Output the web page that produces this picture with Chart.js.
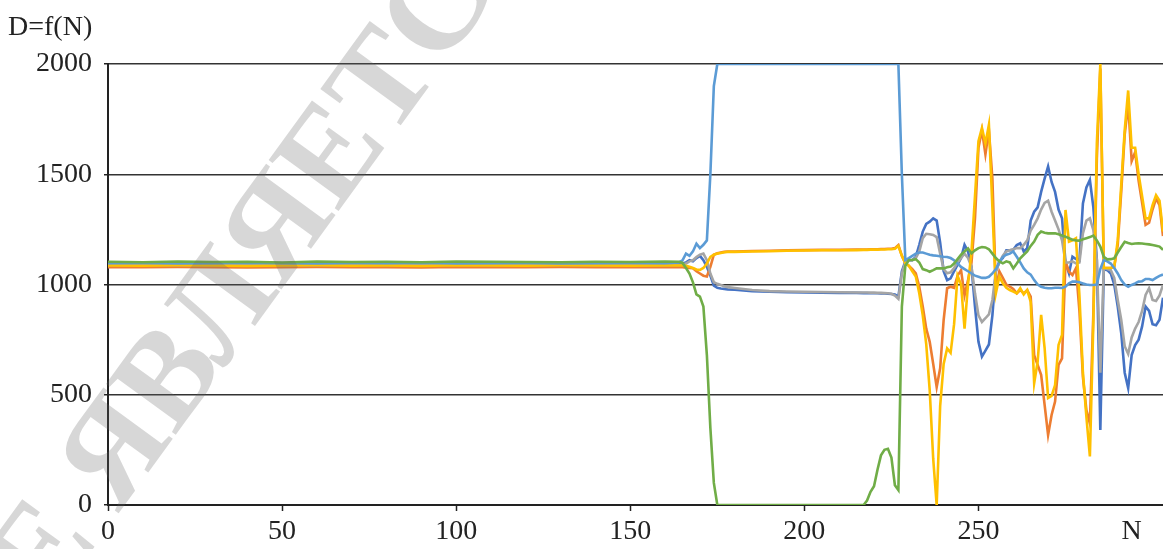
<!DOCTYPE html>
<html>
<head>
<meta charset="utf-8">
<script src="https://cdn.jsdelivr.net/npm/chart.js@4.4.1/dist/chart.umd.min.js"></script>
<style>
  html, body { margin: 0; padding: 0; background: #fff; }
  #chart { display: block; }
</style>
</head>
<body>
<canvas id="chart" width="1163" height="549"></canvas>
<script>
// Sample positions N (dense only where the curves move)
const nValues = [
  0, 10, 20, 30, 40, 50, 60, 70, 80, 90, 100, 110, 120, 130, 140, 150, 160,
  164, 165, 166, 167, 168, 169, 170, 171, 172, 173, 174, 175, 176, 177, 178,
  180, 185, 190, 195, 200, 205, 210, 215,
  217, 218, 219, 220, 221, 222, 223, 224, 225, 226, 227,
  228, 229, 230, 231, 232, 233, 234, 235, 236, 237,
  238, 239, 240, 241, 242, 243, 244, 245, 246, 247,
  248, 249, 250, 251, 252, 253, 254, 255, 256, 257,
  258, 259, 260, 261, 262, 263, 264, 265, 266, 267,
  268, 269, 270, 271, 272, 273, 274, 275, 276, 277,
  278, 279, 280, 281, 282, 283, 284, 285, 286, 287,
  288, 289, 290, 291, 292, 293, 294, 295, 296, 297,
  298, 299, 300, 301, 302, 303
];

const seriesBlue = [
  1093, 1092, 1094, 1093, 1091, 1094, 1093, 1092, 1094, 1093, 1092, 1094, 1093, 1092, 1094, 1093, 1092,
  1093, 1095, 1100, 1110, 1105, 1120, 1130, 1110, 1080, 1040, 995, 985, 982, 980, 978,
  976, 970, 967, 965, 964, 963, 962, 962,
  961, 961, 960, 960, 960, 959, 959, 958, 957, 955, 945,
  1060, 1105, 1110, 1110, 1125, 1180, 1240, 1275, 1285, 1300,
  1290, 1190, 1060, 1020, 1028, 1060, 1090, 1120, 1180, 1150,
  1080, 900, 740, 673, 700, 728, 860, 1060, 1105, 1120,
  1155, 1155, 1157, 1179, 1187, 1150, 1165, 1290, 1330, 1350,
  1420, 1480, 1535, 1465, 1420, 1340, 1300, 1100, 1050, 1126,
  1115, 1110, 1368, 1440, 1474, 1350, 1111, 340, 1070, 1065,
  1050, 1000, 900, 780, 600, 530, 680, 725, 750, 810,
  900, 880, 820, 815, 840, 940
];

const seriesOrange = [
  1079, 1078, 1080, 1079, 1077, 1079, 1080, 1078, 1079, 1077, 1080, 1079, 1078, 1080, 1079, 1078, 1079,
  1079, 1078, 1076, 1075, 1074, 1060, 1050, 1040, 1036, 1080, 1135, 1142, 1145, 1148, 1150,
  1150, 1152, 1153, 1155, 1156, 1157, 1157, 1158,
  1159, 1159, 1160, 1160, 1160, 1161, 1161, 1162, 1162, 1165, 1179,
  1130, 1096, 1085, 1070, 1051, 990, 900, 800, 740, 640,
  535, 620, 839, 983, 990, 985, 1040, 1065, 950, 1020,
  1100, 1300, 1620, 1700, 1590, 1700, 1480, 980, 1060, 1030,
  1000, 990, 980, 960, 975, 960, 975, 945, 680, 635,
  590, 454, 318, 408, 469, 635, 665, 1104, 1058, 1043,
  1074, 880, 580, 430, 370, 870, 1570, 1980, 1075, 1075,
  1075, 1080, 1180, 1420, 1680, 1820, 1560, 1600, 1470, 1370,
  1270, 1280, 1340, 1390, 1360, 1220
];

const seriesGray = [
  1088, 1089, 1087, 1088, 1090, 1088, 1087, 1089, 1088, 1087, 1089, 1088, 1087, 1089, 1088, 1087, 1089,
  1088, 1090, 1095, 1105, 1110, 1125, 1135, 1140, 1110, 1050, 1010, 1003, 998, 992, 988,
  984, 975, 970, 968, 967, 966, 965, 964,
  964, 964, 963, 963, 962, 962, 961, 960, 958, 950, 935,
  1050, 1100, 1110, 1110, 1120, 1150, 1210, 1230, 1228, 1225,
  1215, 1140, 1070, 1051, 1055, 1075, 1100, 1120, 1140, 1120,
  1080, 960, 860, 830, 847, 865, 930, 1060, 1100, 1130,
  1150, 1155, 1160, 1165, 1165, 1180, 1200, 1245, 1270, 1300,
  1340, 1370, 1380, 1330, 1290, 1250, 1200, 1100, 1100, 1105,
  1096, 1100, 1232, 1290, 1300, 1247, 1111, 600, 1075, 1070,
  1065, 1030, 930, 840, 720, 685, 760, 800, 830, 880,
  953, 983, 930, 925, 950, 998
];

const seriesYellow = [
  1086, 1085, 1087, 1086, 1084, 1086, 1087, 1085, 1086, 1084, 1087, 1086, 1085, 1087, 1086, 1085, 1086,
  1086, 1086, 1085, 1080, 1075, 1068, 1066, 1075, 1095, 1125, 1135, 1140, 1143, 1146, 1148,
  1148, 1150, 1151, 1153, 1154, 1155, 1155, 1156,
  1157, 1157, 1158, 1158, 1158, 1159, 1159, 1160, 1160, 1162, 1175,
  1130, 1096, 1085, 1060, 1036, 960, 860, 730, 520, 210,
  0, 450, 640, 710, 690, 820, 1040, 1000, 800, 1000,
  1150, 1400, 1650, 1710, 1640, 1725, 1350, 960, 1036, 1005,
  985, 975, 968, 960, 983, 955, 975, 921, 552, 650,
  862, 712, 485, 495, 544, 726, 771, 1338, 1194, 1200,
  1210, 950, 600, 400, 220, 830, 1640, 2000, 1075, 1075,
  1075, 1080, 1200, 1450, 1700, 1880, 1620, 1620, 1500, 1400,
  1300, 1300, 1360, 1405, 1380, 1240
];

const seriesSkyBlue = [
  1097, 1098, 1096, 1097, 1099, 1097, 1096, 1098, 1097, 1099, 1096, 1097, 1098, 1096, 1097, 1098, 1097,
  1100, 1110, 1140, 1130, 1150, 1185, 1165, 1180, 1200, 1500, 1900, 2000, 2000, 2000, 2000,
  2000, 2000, 2000, 2000, 2000, 2000, 2000, 2000,
  2000, 2000, 2000, 2000, 2000, 2000, 2000, 2000, 2000, 2000, 2000,
  1500, 1111, 1120, 1130, 1140, 1145, 1145, 1140, 1135, 1132,
  1130, 1128, 1126, 1125, 1120, 1110, 1095, 1080, 1070, 1060,
  1050, 1040, 1035, 1030, 1030, 1035, 1050, 1070, 1100, 1125,
  1135, 1140, 1150, 1126, 1100, 1073, 1055, 1045, 1020, 1000,
  990, 985, 983, 983, 985, 985, 984, 990, 1005, 1013,
  1013, 1010, 1005, 1000, 998, 998, 1000, 1070, 1111, 1105,
  1095, 1075, 1050, 1020, 1000, 990, 998, 1005, 1013, 1015,
  1025, 1025, 1020, 1030, 1039, 1045
];

const seriesGreen = [
  1103, 1101, 1104, 1102, 1103, 1100, 1104, 1102, 1103, 1101, 1104, 1103, 1102, 1101, 1103, 1102, 1104,
  1103, 1098, 1075, 1050, 1010, 955, 945, 900, 680, 350, 100, 0, 0, 0, 0,
  0, 0, 0, 0, 0, 0, 0, 0,
  0, 20, 60, 85, 160, 225, 250, 255, 215, 90, 68,
  900, 1085, 1111, 1111, 1115, 1100, 1070, 1065, 1058, 1065,
  1073, 1073, 1073, 1078, 1081, 1095, 1115, 1135, 1150, 1164,
  1141, 1155, 1165, 1170, 1168, 1160, 1140, 1120, 1105, 1096,
  1105, 1100, 1073, 1095, 1119, 1135, 1150, 1175, 1195, 1225,
  1240, 1235, 1232, 1232, 1232, 1228, 1222, 1217, 1210, 1203,
  1200, 1199, 1205, 1210, 1215, 1222, 1200, 1172, 1125, 1114,
  1115, 1119, 1145, 1170, 1194, 1188, 1184, 1186, 1187, 1186,
  1184, 1182, 1179, 1176, 1172, 1157
];

const xTickValues = [0, 50, 100, 150, 200, 250];
const nLabelAt = 294;
const yTickStep = 500;
const titleText = 'D=f(N)';
const watermarkLead = 'НЕ ';
const watermarkMain = 'ЯВЛЯЕТСЯ';

const serif = '"Liberation Serif", "Times New Roman", serif';
const inkColor = '#222';

function toPoints(values) {
  return nValues.map((n, i) => ({ x: n, y: values[i] }));
}

// Excel draws later series on top; lower "order" is drawn last in Chart.js
const seriesList = [
  { data: seriesBlue, color: '#4472C4', order: 6 },
  { data: seriesOrange, color: '#ED7D31', order: 5 },
  { data: seriesGray, color: '#A5A5A5', order: 4 },
  { data: seriesYellow, color: '#FFC000', order: 3 },
  { data: seriesSkyBlue, color: '#5B9BD5', order: 2 },
  { data: seriesGreen, color: '#70AD47', order: 1 }
];

const overlayPlugin = {
  id: 'overlay',
  afterDraw(chart) {
    const ctx = chart.ctx;
    ctx.save();
    // Title in the upper left corner
    ctx.fillStyle = inkColor;
    ctx.font = '28px ' + serif;
    ctx.textBaseline = 'middle';
    ctx.textAlign = 'left';
    ctx.fillText(titleText, 8, 28);

    // Diagonal watermark laid over the plot
    ctx.translate(119, 455);
    ctx.rotate(-54 * Math.PI / 180);
    ctx.font = 'bold 132px ' + serif;
    ctx.fillStyle = 'rgba(100, 100, 100, 0.26)';
    const half = ctx.measureText(watermarkMain.charAt(0)).width / 2;
    ctx.textAlign = 'left';
    ctx.fillText(watermarkMain, -half, 0);
    ctx.textAlign = 'right';
    ctx.fillText(watermarkLead, -half, 0);
    ctx.restore();
  }
};

new Chart(document.getElementById('chart').getContext('2d'), {
  type: 'line',
  data: {
    datasets: seriesList.map(s => ({
      data: toPoints(s.data),
      borderColor: s.color,
      backgroundColor: s.color,
      borderWidth: 2.6,
      pointRadius: 0,
      tension: 0,
      fill: false,
      order: s.order
    }))
  },
  options: {
    responsive: false,
    animation: false,
    devicePixelRatio: 1,
    layout: { padding: { top: 64, left: 0, right: 0, bottom: 0 } },
    plugins: {
      legend: { display: false },
      tooltip: { enabled: false }
    },
    scales: {
      x: {
        type: 'linear',
        min: 0,
        max: 303,
        afterBuildTicks: axis => {
          axis.ticks = xTickValues.concat([nLabelAt]).map(v => ({ value: v }));
        },
        afterFit: scale => { scale.height = 44; },
        grid: {
          drawOnChartArea: false,
          drawTicks: true,
          tickLength: 6,
          tickWidth: 1.5,
          tickColor: ctx => (ctx.tick && ctx.tick.value === nLabelAt) ? 'rgba(0,0,0,0)' : inkColor
        },
        border: { display: true, color: inkColor, width: 2 },
        ticks: {
          autoSkip: false,
          maxRotation: 0,
          minRotation: 0,
          padding: 4,
          color: inkColor,
          font: { family: serif, size: 28 },
          callback: v => (v === nLabelAt ? 'N' : String(v))
        }
      },
      y: {
        min: 0,
        max: 2000,
        afterFit: scale => { scale.width = 108; },
        grid: {
          color: '#333',
          lineWidth: 1.5,
          tickLength: 4,
          tickColor: inkColor
        },
        border: { display: true, color: inkColor, width: 2 },
        ticks: {
          stepSize: yTickStep,
          padding: 12,
          color: inkColor,
          font: { family: serif, size: 28 },
          callback: v => String(v)
        }
      }
    }
  },
  plugins: [overlayPlugin]
});
</script>
</body>
</html>
